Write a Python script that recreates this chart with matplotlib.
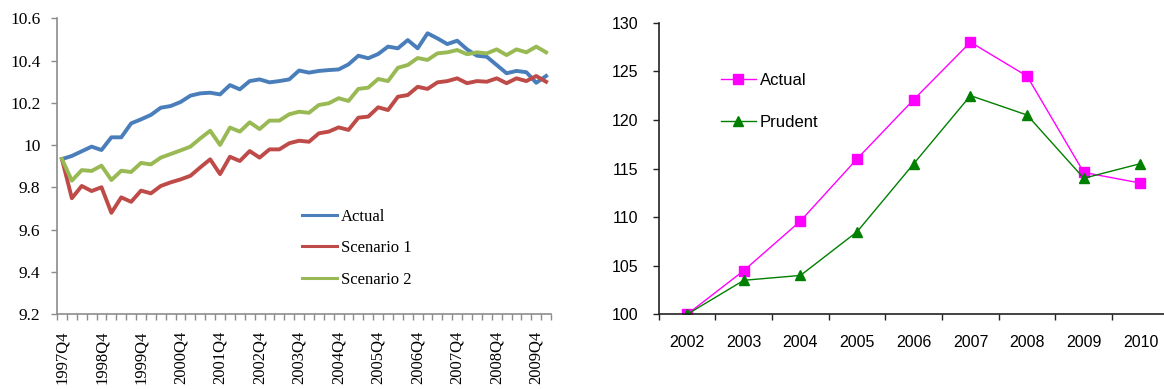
import numpy as np
import matplotlib.pyplot as plt

# Left panel: quarterly series, 1997Q4 - 2010Q1
quarters = ['%dQ%d' % ((q + 3) // 4 + 1997, (q + 3) % 4 + 1) for q in range(50)]

actual = [9.934, 9.949, 9.971, 9.993, 9.977, 10.037, 10.037, 10.103, 10.122, 10.143,
          10.177, 10.185, 10.204, 10.234, 10.245, 10.248, 10.240, 10.284, 10.264, 10.303,
          10.311, 10.297, 10.303, 10.311, 10.353, 10.343, 10.351, 10.355, 10.358, 10.382,
          10.423, 10.411, 10.431, 10.466, 10.458, 10.497, 10.458, 10.529, 10.505, 10.478,
          10.494, 10.453, 10.423, 10.418, 10.379, 10.340, 10.351, 10.345, 10.295, 10.327]

scenario1 = [9.934, 9.749, 9.807, 9.783, 9.801, 9.680, 9.753, 9.732, 9.785, 9.772,
             9.807, 9.824, 9.838, 9.855, 9.895, 9.933, 9.863, 9.945, 9.925, 9.972,
             9.941, 9.980, 9.980, 10.009, 10.021, 10.016, 10.056, 10.064, 10.084, 10.072,
             10.130, 10.135, 10.179, 10.166, 10.229, 10.237, 10.276, 10.266, 10.297, 10.303,
             10.316, 10.293, 10.303, 10.300, 10.316, 10.293, 10.316, 10.303, 10.327, 10.300]

scenario2 = [9.934, 9.832, 9.882, 9.878, 9.903, 9.835, 9.879, 9.873, 9.916, 9.909,
             9.941, 9.958, 9.975, 9.993, 10.032, 10.068, 10.001, 10.083, 10.064, 10.108,
             10.076, 10.116, 10.116, 10.146, 10.158, 10.153, 10.190, 10.198, 10.222, 10.209,
             10.266, 10.272, 10.313, 10.303, 10.366, 10.379, 10.412, 10.403, 10.434, 10.439,
             10.450, 10.430, 10.439, 10.434, 10.453, 10.426, 10.453, 10.439, 10.466, 10.439]

# Right panel: annual index, 2002 = 100
years = ['2002', '2003', '2004', '2005', '2006', '2007', '2008', '2009', '2010']
actual_idx = [100, 104.5, 109.6, 116, 122.1, 128, 124.5, 114.6, 113.5]
prudent_idx = [100, 103.5, 104, 108.5, 115.5, 122.5, 120.5, 114, 115.5]

fig = plt.figure(figsize=(11.64, 3.89), dpi=100)

# ---- left chart ----
serif = ['Liberation Serif', 'DejaVu Serif']
grey = '#8c8c8c'
ax1 = fig.add_axes([0.049, 0.192, 0.4244, 0.761])
x = np.arange(len(quarters))
ax1.plot(x, actual, color='#4a7ebb', lw=2.8, label='Actual')
ax1.plot(x, scenario1, color='#be4b48', lw=2.8, label='Scenario 1')
ax1.plot(x, scenario2, color='#98b954', lw=2.8, label='Scenario 2')

ax1.set_xlim(-0.5, len(quarters) - 0.5)
ax1.set_ylim(9.2, 10.6)
yt = [9.2, 9.4, 9.6, 9.8, 10.0, 10.2, 10.4, 10.6]
ax1.set_yticks(yt, ['%g' % v for v in yt], family=serif, fontsize=12.5)
ax1.set_xticks(np.arange(len(quarters) + 1) - 0.5, [])
ax1.set_xticks(x[::4], quarters[::4], minor=True, rotation=90, family=serif, fontsize=12)
ax1.tick_params(which='major', direction='out', length=4, color=grey, width=1)
ax1.tick_params(axis='y', pad=8)
ax1.tick_params(which='minor', length=0, pad=12)
for s in ['top', 'right']:
    ax1.spines[s].set_visible(False)
for s in ['left', 'bottom']:
    ax1.spines[s].set_color(grey)
    ax1.spines[s].set_linewidth(1.2)

leg1 = ax1.legend(loc='upper left', bbox_to_anchor=(0.495, 0.356), frameon=False,
                  prop={'family': serif, 'size': 12}, handlelength=2.1,
                  handletextpad=0.25, labelspacing=0.92, borderpad=0, borderaxespad=0)
for h in leg1.get_lines():
    h.set_linewidth(2.2)

# ---- right chart ----
sans = ['Liberation Sans', 'DejaVu Sans']
ax2 = fig.add_axes([0.566, 0.192, 0.4381, 0.7496])
xi = np.arange(len(years))
ax2.plot(xi, actual_idx, color='#ff00ff', lw=1, marker='s', ms=7.5, label='Actual')
ax2.plot(xi, prudent_idx, color='#008000', lw=1, marker='^', ms=7.5, label='Prudent')
ax2.set_xlim(-0.5, len(years) - 0.5)
ax2.set_ylim(100, 130)
ax2.set_yticks(range(100, 131, 5))
ax2.set_xticks(np.arange(len(years) + 1) - 0.5, [])
ax2.set_xticks(xi, years, minor=True)
for lab in ax2.get_yticklabels() + ax2.get_xticklabels(minor=True):
    lab.set_family(sans)
    lab.set_fontsize(11.5)
ax2.tick_params(which='major', direction='out', length=4.5, color='#222222', width=1)
ax2.tick_params(axis='y', pad=10)
ax2.tick_params(which='minor', length=0, pad=15)
for s in ['top', 'right']:
    ax2.spines[s].set_visible(False)
for s in ['left', 'bottom']:
    ax2.spines[s].set_color('#222222')
    ax2.spines[s].set_linewidth(1.2)

fig.legend(handles=ax2.get_lines(), loc='upper left', bbox_to_anchor=(0.619, 0.812),
           frameon=False, prop={'family': sans, 'size': 12}, handlelength=2.1,
           handletextpad=0.25, labelspacing=1.6, borderpad=0, borderaxespad=0)

fig.savefig('out.png', dpi=100)
